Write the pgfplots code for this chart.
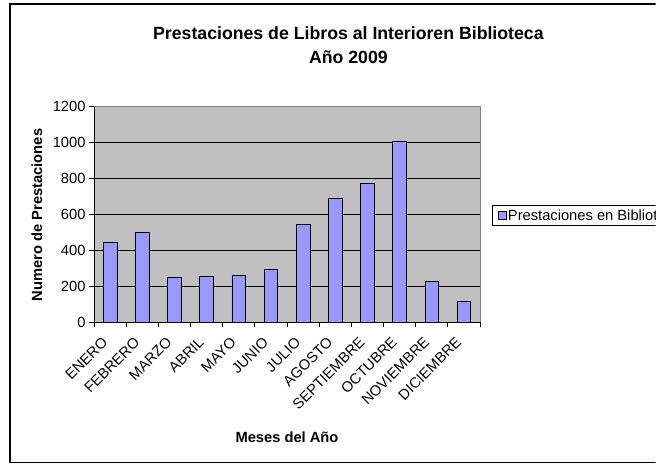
\documentclass[border=0pt]{standalone}
\usepackage{fontspec}
\setmainfont{Liberation Sans}
\usepackage{pgfplots}
\pgfplotsset{compat=1.18}
\definecolor{barblue}{HTML}{9999FF}
\definecolor{plotgray}{HTML}{C0C0C0}
\begin{document}
\begin{tikzpicture}[x=1pt,y=1pt]
\path[use as bounding box] (0,0) rectangle (664,464);
\begin{scope}
\clip (0,0) rectangle (655.5,464);
\draw[line width=1.2pt] (10,1.5) rectangle (700,460);
\node[align=center, font=\fontsize{17.7}{24}\selectfont\bfseries] at (348.4,419) {Prestaciones de Libros al Interioren Biblioteca\\Año 2009};
\begin{axis}[
  at={(94pt,141.7pt)}, anchor=south west,
  width=386pt, height=215.6pt, scale only axis,
  xmin=0, xmax=12, ymin=0, ymax=1200,
  axis x line*=bottom, axis y line*=left,
  axis line style={black, line width=0.8pt},
  axis background/.style={fill=plotgray},
  ytick={0,200,...,1200},
  ymajorgrids, major grid style={black, line width=0.8pt},
  xtick={0,...,12}, xticklabels={},
  extra x ticks={0.5,1.5,...,11.5},
  extra x tick labels={ENERO,FEBRERO,MARZO,ABRIL,MAYO,JUNIO,JULIO,AGOSTO,SEPTIEMBRE,OCTUBRE,NOVIEMBRE,DICIEMBRE},
  extra x tick style={major tick length=0pt, tick label style={xshift=-9pt, yshift=-9pt, rotate=45, anchor=north east, font=\fontsize{14.7}{16}\selectfont}},
  tick align=outside, major tick length=5pt,
  tick style={black, line width=0.8pt},
  /pgf/number format/assume math mode=true,
  /pgf/number format/1000 sep={},
  yticklabel style={font=\fontsize{14.7}{16}\selectfont},
  xlabel={Meses del Año},
  ylabel={Numero de Prestaciones},
  xlabel style={at={(axis description cs:0.5,-0.532)}, anchor=center, font=\fontsize{14.7}{16}\selectfont\bfseries},
  ylabel style={at={(axis description cs:-0.148,0.498)}, anchor=center, rotate=0, font=\fontsize{14.7}{16}\selectfont\bfseries},
  legend style={at={(axis description cs:1.031,0.495)}, anchor=west, draw=black, fill=white, line width=0.8pt, font=\fontsize{14.7}{16}\selectfont, inner xsep=5.5pt, inner ysep=2.5pt, nodes={inner sep=1.5pt}},
  legend image code/.code={\draw[fill=barblue, draw=black, line width=0.6pt] (0pt,-4pt) rectangle (8pt,4pt);},
  clip=false,
]
\addplot[ybar, bar width=13.7pt, fill=barblue, draw=black, line width=0.8pt] coordinates {
(0.5,445) (1.5,499) (2.5,249) (3.5,254) (4.5,262) (5.5,295) (6.5,545) (7.5,690) (8.5,775) (9.5,1007) (10.5,228) (11.5,117)};
\addlegendentry{Prestaciones en Biblioteca}
\draw[gray, line width=0.8pt] (rel axis cs:0,1) -- (rel axis cs:1,1) -- (rel axis cs:1,0);
\end{axis}
\end{scope}
\end{tikzpicture}
\end{document}
